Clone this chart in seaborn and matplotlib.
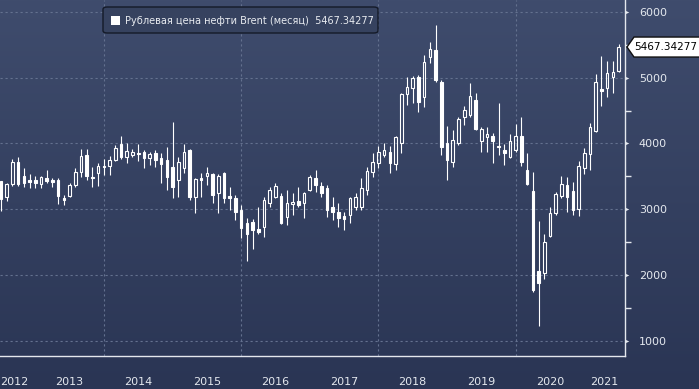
import matplotlib
matplotlib.use("Agg")
import matplotlib.pyplot as plt
from matplotlib.colors import LinearSegmentedColormap
from matplotlib.patches import FancyBboxPatch, Rectangle, Polygon
import numpy as np
import pandas as pd
import seaborn as sns

# monthly candles, Jun 2012 .. Jun 2021
months = pd.period_range("2012-06", "2021-06", freq="M")

open_ = [
    3424, 3180, 3380, 3720, 3505, 3440, 3450,
    3390, 3470, 3440, 3440, 3165, 3200, 3365, 3570, 3830, 3495, 3550, 3665,
    3650, 3750, 3990, 3790, 3825, 3850, 3870, 3785, 3860, 3775, 3750, 3645,
    3445, 3620, 3900, 3190, 3480, 3510, 3530, 3250, 3545, 3200, 3165, 2990,
    2785, 2810, 2700, 2730, 3090, 3180, 3200, 2875, 3085, 3130, 3090, 3300,
    3480, 3355, 3320, 3040, 2960, 2900, 2910, 3040, 3040, 3290, 3570, 3710,
    3825, 3875, 3690, 4000, 4750, 4840, 5015, 4700, 5310, 5420, 4940, 4010,
    3725, 4000, 4400, 4430, 4660, 4040, 4100, 4110, 3960, 3900, 3790, 3900,
    4110, 3595, 3280, 2065, 2035, 2600, 2945, 3200, 3370, 3275, 3010, 3630,
    3835, 4190, 4830, 4840, 5015, 5105,
]
high = [
    3430, 3400, 3770, 3790, 3620, 3530, 3500,
    3510, 3600, 3470, 3480, 3220, 3400, 3620, 3910, 3910, 3640, 3710, 3770,
    3810, 3980, 4115, 4000, 3920, 3985, 3900, 3875, 3900, 3860, 3940, 4320,
    3800, 3985, 3910, 3480, 3555, 3640, 3545, 3530, 3570, 3340, 3215, 3065,
    2860, 2850, 3040, 3190, 3345, 3400, 3250, 3290, 3240, 3340, 3265, 3520,
    3595, 3420, 3370, 3190, 3100, 2960, 3190, 3240, 3470, 3645, 3860, 3960,
    4010, 3960, 4115, 4765, 5015, 5025, 5040, 5345, 5550, 5800, 4965, 4265,
    4205, 4400, 4570, 4915, 4765, 4245, 4255, 4155, 4620, 3990, 4145, 4295,
    4400, 3850, 3570, 2825, 2630, 3040, 3265, 3505, 3495, 3410, 3740, 3925,
    4315, 5055, 5330, 5260, 5260, 5520,
]
low = [
    2970, 3120, 3350, 3350, 3340, 3320, 3320,
    3330, 3395, 3345, 3080, 3070, 3180, 3345, 3495, 3445, 3345, 3350, 3520,
    3520, 3740, 3770, 3700, 3800, 3740, 3620, 3670, 3645, 3395, 3290, 3165,
    3190, 3545, 3140, 2935, 3190, 3370, 3090, 2935, 3090, 2990, 2835, 2555,
    2215, 2390, 2620, 2580, 3040, 3165, 2780, 2760, 2910, 3035, 2860, 3280,
    3265, 3190, 2875, 2835, 2735, 2680, 2785, 2990, 2990, 3215, 3495, 3630,
    3800, 3555, 3595, 3860, 4585, 4610, 4485, 4560, 5220, 4940, 3825, 3445,
    3635, 3980, 4280, 4405, 4205, 3875, 3875, 3700, 3825, 3675, 3775, 3875,
    3655, 3370, 1745, 1225, 1935, 2580, 2910, 3165, 2960, 2910, 2895, 3535,
    3600, 4180, 4570, 4700, 4775, 5090,
]
close = [
    3160, 3380, 3720, 3390, 3405, 3410, 3405,
    3490, 3430, 3420, 3200, 3140, 3365, 3560, 3810, 3505, 3470, 3660, 3645,
    3750, 3925, 3800, 3880, 3875, 3835, 3785, 3840, 3750, 3690, 3495, 3340,
    3725, 3875, 3190, 3455, 3445, 3545, 3215, 3505, 3165, 3165, 2960, 2710,
    2620, 2690, 2660, 3140, 3300, 3355, 2795, 3090, 3105, 3065, 3240, 3495,
    3370, 3250, 2990, 2955, 2860, 2845, 3165, 3180, 3320, 3585, 3725, 3875,
    3900, 3700, 4095, 4750, 4855, 4990, 4635, 5235, 5430, 4965, 3950, 3750,
    4060, 4370, 4510, 4720, 4215, 4215, 4140, 4040, 3940, 3860, 4040, 4110,
    3720, 3385, 1770, 1880, 2505, 2935, 3230, 3380, 3180, 2990, 3660, 3850,
    4245, 4940, 4805, 5065, 5090, 5467.34277,
]

year_labels = ["2012", "2013", "2014", "2015", "2016", "2017", "2018", "2019", "2020", "2021"]
y_ticks = [1000, 2000, 3000, 4000, 5000, 6000]
y_minor = [1500, 2500, 3500, 4500, 5500]
grid_years = [2014, 2016, 2018, 2020]
series_name = "Рублевая цена нефти Brent (месяц)"
last_text = "5467.34277"

sns.set_style("dark")
plt.rcParams["font.family"] = ["DejaVu Sans"]

df = pd.DataFrame({"month": months, "open": open_, "high": high, "low": low, "close": close})
# candle drawn at the end of its month
df["t"] = df["month"].dt.year + df["month"].dt.month / 12
df["top"] = df[["open", "close"]].max(axis=1)
df["bot"] = df[["open", "close"]].min(axis=1)
df["up"] = df["close"] >= df["open"]

W, H = 699, 389
fig = plt.figure(figsize=(W / 100, H / 100), dpi=100)

# gradient background
bg = fig.add_axes([0, 0, 1, 1], zorder=0)
cmap = LinearSegmentedColormap.from_list("bg", ["#2a3554", "#3f4c6d"])
bg.imshow(np.linspace(0, 1, 256).reshape(-1, 1), aspect="auto", cmap=cmap,
          extent=[0, 1, 0, 1], origin="lower")
bg.axis("off")

ax = fig.add_axes([0, 33 / H, 625 / W, 356 / H], zorder=1)
ax.patch.set_alpha(0)

fg = "#e4e8ee"
grid_c = "#64718f"

ax.set_xlim(2012.486, 2021.593)
ax.set_ylim(767, 6183)

# gridlines
for v in y_ticks:
    ax.axhline(v, color=grid_c, lw=0.8, ls=(0, (2, 2.5)), zorder=1)
for g in grid_years:
    ax.axvline(g, color=grid_c, lw=0.8, ls=(0, (2, 2.5)), zorder=1)

# wicks (outside bodies)
ax.vlines(df["t"], df["top"], df["high"], color="white", lw=0.8, zorder=3)
ax.vlines(df["t"], df["low"], df["bot"], color="white", lw=0.8, zorder=3)

# bodies: filled = down, hollow = up
bw = 0.038
up = df[df["up"]]
dn = df[~df["up"]]
ax.bar(up["t"], up["top"] - up["bot"], bottom=up["bot"], width=bw,
       facecolor="none", edgecolor="white", linewidth=0.8, zorder=4)
ax.bar(dn["t"], dn["top"] - dn["bot"], bottom=dn["bot"], width=bw,
       facecolor="white", edgecolor="white", linewidth=0.8, zorder=4)

# spines
for s in ["top", "left"]:
    ax.spines[s].set_visible(False)
for s in ["bottom", "right"]:
    ax.spines[s].set_color(fg)
    ax.spines[s].set_linewidth(1.0)

# x axis: year separators + labels in between
ax.set_xticks(range(2013, 2022))
ax.set_xticklabels([])
ax.tick_params(axis="x", which="major", length=24, width=0.8, color="#8e98ae", direction="out")
xmin, xmax = ax.get_xlim()
for i, lab in enumerate(year_labels):
    y0 = int(lab)
    if i == 0:
        ax.text(xmin + 0.005, -0.073, lab, transform=ax.get_xaxis_transform(),
                ha="left", va="center", fontsize=8, color=fg)
    else:
        c = (max(y0, xmin) + min(y0 + 1, xmax)) / 2
        ax.text(c, -0.073, lab, transform=ax.get_xaxis_transform(),
                ha="center", va="center", fontsize=8, color=fg)

# y axis on the right
ax.yaxis.tick_right()
ax.set_yticks(y_ticks)
ax.set_yticklabels([str(v) for v in y_ticks])
ax.set_yticks(y_minor, minor=True)
ax.tick_params(axis="y", which="major", length=0, pad=10, labelsize=8, labelcolor=fg)
ax.tick_params(axis="y", which="minor", length=4, width=1, color=fg, direction="out")
ax.tick_params(axis="y", which="both", left=False, right=True)
ax.tick_params(axis="x", which="minor", bottom=False)
tri = [(0, -1), (2.2, 0), (0, 1)]
ax.scatter([1.0] * len(y_ticks), y_ticks, marker=tri, s=30, color=fg,
           transform=ax.get_yaxis_transform(), clip_on=False, zorder=5, linewidths=0)

# legend box
fig.patches.append(FancyBboxPatch((103 / W, 1 - 33 / H), 275 / W, 26 / H,
                                  boxstyle="round,pad=0,rounding_size=0.006",
                                  transform=fig.transFigure, facecolor="#36425f",
                                  edgecolor="#141a28", lw=1.0, zorder=6))
fig.patches.append(Rectangle((111 / W, 1 - 25 / H), 9 / W, 9 / H, transform=fig.transFigure,
                             facecolor="white", edgecolor="none", zorder=7))
fig.text(125 / W, 1 - 21 / H, series_name + "  " + last_text, fontsize=7.0,
         color="#e8ebf0", va="center", ha="left", zorder=8)

# last value tag on the right axis
fig.canvas.draw()
y_last = ax.transData.transform((xmax, close[-1]))[1] / fig.bbox.height
hh = 10 / H
pts = [(627 / W, y_last), (634 / W, y_last + hh), (1.01, y_last + hh),
       (1.01, y_last - hh), (634 / W, y_last - hh)]
fig.patches.append(Polygon(pts, closed=True, transform=fig.transFigure,
                           facecolor="white", edgecolor="#101010", lw=1.0, zorder=6))
fig.text(634 / W, y_last, last_text, fontsize=7.5, color="black", va="center", ha="left", zorder=8)

fig.savefig("out.png", dpi=100)
